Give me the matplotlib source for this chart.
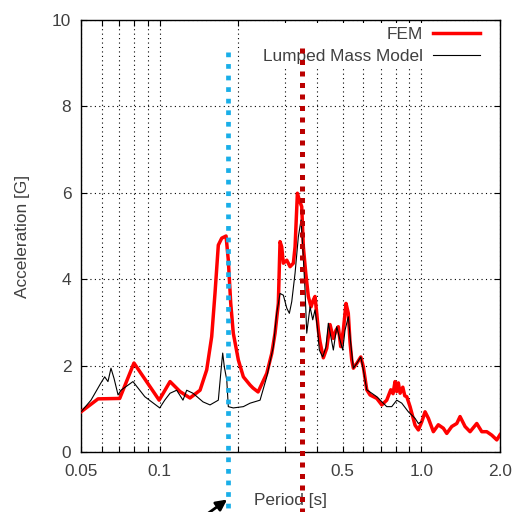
import numpy as np
import matplotlib
matplotlib.use("Agg")
import matplotlib.pyplot as plt

plt.rcParams['font.family'] = ['Liberation Sans', 'DejaVu Sans']

# FEM response spectrum (period [s], acceleration [G])
fem_period = [0.050, 0.0581, 0.0703, 0.0797, 0.0995, 0.1095, 0.1195, 0.1305, 0.1426,
              0.1512, 0.1580, 0.1627, 0.1675, 0.1726, 0.1793, 0.1829, 0.1868, 0.1911,
              0.1998, 0.2088, 0.2215, 0.2274, 0.2377, 0.2566, 0.2681, 0.2760, 0.2841,
              0.2884, 0.2927, 0.2969, 0.3060, 0.3150, 0.3243, 0.3292, 0.3360, 0.3418,
              0.3491, 0.3541, 0.3617, 0.3700, 0.3789, 0.3866, 0.3924, 0.3984, 0.4040,
              0.4102, 0.4222, 0.4350, 0.4479, 0.4611, 0.4721, 0.4818, 0.4920, 0.5035,
              0.5156, 0.5260, 0.5340, 0.5422, 0.5500, 0.5667, 0.5870, 0.6006, 0.6188,
              0.6372, 0.6760, 0.7064, 0.7379, 0.7645, 0.7800, 0.7938, 0.8050, 0.8174,
              0.8300, 0.8498, 0.8650, 0.8801, 0.9061, 0.9468, 0.9749, 1.0045, 1.034,
              1.0645, 1.1124, 1.162, 1.2146, 1.2515, 1.308, 1.367, 1.407, 1.4703,
              1.5366, 1.630, 1.7036, 1.780, 1.860, 1.944, 2.0]
fem_acc = [0.93, 1.23, 1.24, 2.06, 1.20, 1.63, 1.40, 1.25, 1.43,
           1.90, 2.67, 3.68, 4.79, 4.95, 5.00, 4.44, 3.45, 2.75,
           2.13, 1.74, 1.55, 1.48, 1.39, 1.82, 2.28, 2.75, 3.44,
           4.87, 4.75, 4.37, 4.44, 4.29, 4.37, 4.75, 5.99, 5.83,
           5.68, 4.75, 4.14, 3.60, 3.36, 3.52, 3.60, 3.21, 2.82,
           2.55, 2.18, 2.40, 2.95, 2.63, 2.82, 2.90, 2.44, 2.82,
           3.44, 3.21, 2.55, 2.13, 1.94, 2.05, 2.20, 1.97, 1.44,
           1.32, 1.24, 1.09, 1.20, 1.44, 1.35, 1.63, 1.40, 1.60,
           1.36, 1.50, 1.30, 1.28, 1.05, 0.62, 0.51, 0.70, 0.93,
           0.78, 0.47, 0.63, 0.55, 0.43, 0.59, 0.66, 0.82, 0.59,
           0.47, 0.66, 0.47, 0.47, 0.39, 0.28, 0.40]

# Lumped mass model response spectrum
lmm_period = [0.050, 0.0546, 0.0596, 0.0616, 0.0634, 0.0651, 0.0669, 0.0693, 0.0711,
              0.0790, 0.0877, 0.100, 0.1045, 0.1095, 0.1161, 0.1227, 0.1268, 0.1340,
              0.1464, 0.1557, 0.1675, 0.1716, 0.1741, 0.1766, 0.1804, 0.1829, 0.1911,
              0.2088, 0.2215, 0.2419, 0.2566, 0.2719, 0.2801, 0.2884, 0.2969, 0.3060,
              0.3131, 0.3197, 0.3292, 0.3388, 0.3470, 0.3522, 0.3594, 0.3648, 0.3756,
              0.3846, 0.3924, 0.4005, 0.4076, 0.4200, 0.4324, 0.4412, 0.4611, 0.4751,
              0.4890, 0.5008, 0.5111, 0.5260, 0.5373, 0.5500, 0.5667, 0.5870, 0.6006,
              0.6188, 0.6760, 0.7379, 0.7711, 0.8059, 0.8424, 0.8926, 0.9468, 0.9749, 1.0]
lmm_acc = [0.93, 1.20, 1.60, 1.74, 1.63, 1.94, 1.70, 1.32, 1.43,
           1.63, 1.28, 1.02, 1.20, 1.36, 1.43, 1.20, 1.43, 1.36,
           1.16, 1.09, 1.20, 1.90, 2.29, 1.97, 1.67, 1.05, 1.02,
           1.05, 1.13, 1.20, 1.74, 2.44, 3.21, 3.67, 3.63, 3.33,
           3.21, 3.48, 4.14, 4.98, 5.37, 4.75, 3.75, 2.75, 3.36,
           3.06, 3.29, 2.90, 2.36, 2.20, 2.44, 2.98, 2.36, 2.90,
           2.59, 2.36, 2.82, 3.13, 2.52, 1.94, 2.05, 2.20, 1.90,
           1.44, 1.28, 1.05, 1.05, 1.20, 1.13, 0.93, 0.78, 0.66, 0.70]

# marker lines (natural periods) and arrow
cyan_period = 0.183
red_period = 0.350
arrow_tip = (0.181, -1.10)
arrow_tail = (0.143, -1.55)

xticks = [0.05, 0.1, 0.5, 1.0, 2.0]
xticklabels = ['0.05', '0.1', '0.5', '1.0', '2.0']
xminor = [0.06, 0.07, 0.08, 0.09, 0.2, 0.3, 0.4, 0.6, 0.7, 0.8, 0.9]
yticks = [0, 2, 4, 6, 8, 10]

txt = '#404040'
fs = 12.4

fig = plt.figure(figsize=(5.12, 5.12), dpi=100)
ax = fig.add_axes([81/512, 60/512, 419/512, 432/512])

ax.plot(fem_period, fem_acc, color='#ff0000', lw=2.5, label='FEM', zorder=3)
ax.plot(lmm_period, lmm_acc, color='black', lw=0.8, label='Lumped Mass Model', zorder=3)

ax.plot([cyan_period, cyan_period], [9.25, -1.6], color='#19aee8', lw=3.4,
        linestyle=(0, (1, 1.45)), clip_on=False, zorder=4)
ax.plot([red_period, red_period], [9.35, -1.6], color='#bb0000', lw=3.6,
        linestyle=(0, (1, 1.3)), clip_on=False, zorder=6)

ax.annotate('', xy=arrow_tip, xytext=arrow_tail, xycoords='data',
            arrowprops=dict(arrowstyle='-|>', color='black', lw=2, mutation_scale=16,
                            shrinkA=0, shrinkB=0),
            annotation_clip=False)

ax.set_xscale('log')
ax.set_xlim(0.05, 2.0)
ax.set_ylim(0, 10)
ax.set_xticks(xticks)
ax.set_xticklabels(xticklabels)
ax.set_xticks(xminor, minor=True)
ax.set_xticklabels([], minor=True)
ax.set_yticks(yticks)

ax.grid(True, which='both', axis='x', color='black', lw=0.8, linestyle=(0, (1, 3)))
ax.grid(True, which='major', axis='y', color='black', lw=0.8, linestyle=(0, (1, 3)))

ax.tick_params(which='both', direction='in', top=True, right=True, length=4,
               labelsize=fs, labelcolor=txt, width=0.8)
ax.tick_params(axis='x', pad=9)
ax.tick_params(axis='y', pad=7)
for s in ax.spines.values():
    s.set_linewidth(1.0)

ax.set_xlabel('Period [s]', fontsize=fs, color=txt, va='top')
ax.set_ylabel('Acceleration [G]', fontsize=fs, color=txt)
ax.xaxis.set_label_coords(0.5, -0.095)
ax.yaxis.set_label_coords(-0.122, 0.5)

leg = ax.legend(loc='upper right', bbox_to_anchor=(0.968, 1.0), markerfirst=False,
                fontsize=fs, frameon=True, fancybox=False, framealpha=1,
                edgecolor='none', facecolor='white',
                handlelength=2.7, handletextpad=0.6, labelspacing=0.42,
                borderpad=0.2, borderaxespad=0.2)
for t in leg.get_texts():
    t.set_color(txt)

fig.savefig('out.png', dpi=100)
